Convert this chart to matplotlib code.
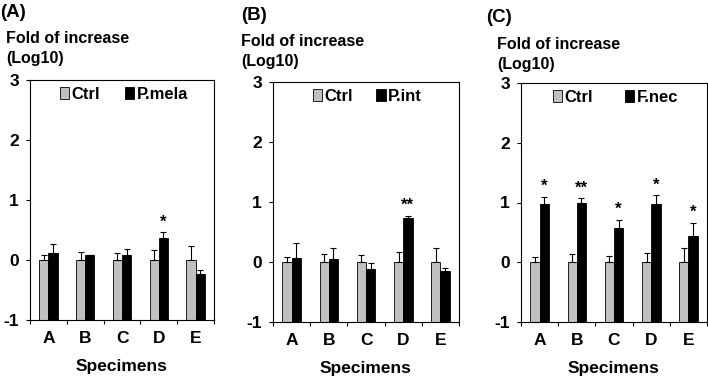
import matplotlib
matplotlib.use("Agg")
import matplotlib.pyplot as plt
import numpy as np

plt.rcParams['font.family'] = ['Liberation Sans', 'DejaVu Sans']
plt.rcParams['font.weight'] = 'bold'
plt.rcParams['axes.labelweight'] = 'bold'
plt.rcParams['axes.unicode_minus'] = False

categories = ['A', 'B', 'C', 'D', 'E']

ctrl_vals = [0, 0, 0, 0, 0]
ctrl_err = [0.09, 0.13, 0.11, 0.16, 0.24]

pmela_vals = [0.12, 0.08, 0.09, 0.37, -0.24]
pmela_err = [0.14, 0.01, 0.09, 0.09, 0.07]
pmela_sig = ['', '', '', '*', '']

pint_vals = [0.07, 0.05, -0.12, 0.73, -0.15]
pint_err = [0.25, 0.19, 0.10, 0.04, 0.05]
pint_sig = ['', '', '', '**', '']

fnec_vals = [0.97, 1.00, 0.57, 0.98, 0.44]
fnec_err = [0.13, 0.07, 0.14, 0.14, 0.22]
fnec_sig = ['*', '**', '*', '*', '*']

panels = [
    ('(A)', 'P.mela', pmela_vals, pmela_err, pmela_sig),
    ('(B)', 'P.int', pint_vals, pint_err, pint_sig),
    ('(C)', 'F.nec', fnec_vals, fnec_err, fnec_sig),
]

W, H = 708, 378
fig = plt.figure(figsize=(W / 100, H / 100), dpi=100)

# axes boxes in pixels: left, top, right, bottom
boxes = [(30, 80, 214, 320), (273, 82, 459, 322), (521, 83, 707, 322)]
legend_x = [0.163, 0.215, 0.172]
legend_gap = [1.5, 1.4, 1.9]
label_pos = [(0, 4, 6, 31), (241, 7, 241, 34), (486, 9, 497, 37)]

ymin = -1
x = np.arange(len(categories))
bw = 0.25

for i, (tag, name, vals, err, sig) in enumerate(panels):
    l, t, r, b = boxes[i]
    ax = fig.add_axes([l / W, 1 - b / H, (r - l) / W, (b - t) / H])

    # Excel-style bars start from the axis minimum
    c_h = np.array(ctrl_vals) - ymin
    s_h = np.array(vals) - ymin
    ax.bar(x - bw / 2, c_h, bw, bottom=ymin, color='#c0c0c0', edgecolor='black',
           linewidth=0.6, label='Ctrl', zorder=2)
    ax.bar(x + bw / 2, s_h, bw, bottom=ymin, color='black', edgecolor='black',
           linewidth=0.6, label=name, zorder=2)
    ax.errorbar(x - bw / 2, ctrl_vals, yerr=[np.zeros(5), ctrl_err], fmt='none',
                ecolor='black', elinewidth=0.8, capsize=2.4, capthick=0.8, zorder=3)
    ax.errorbar(x + bw / 2, vals, yerr=[np.zeros(5), err], fmt='none',
                ecolor='black', elinewidth=0.8, capsize=2.4, capthick=0.8, zorder=3)

    for j, s in enumerate(sig):
        if s:
            ax.text(x[j] + bw / 2, vals[j] + err[j] + 0.10, s, ha='center',
                    va='baseline', fontsize=12, fontweight='bold')

    ax.set_xlim(-0.5, len(categories) - 0.5)
    ax.set_ylim(-1, 3)
    ax.set_yticks([-1, 0, 1, 2, 3])
    ax.set_xticks(x)
    ax.set_xticklabels(categories)
    ax.set_xticks(np.arange(-0.5, len(categories)), minor=True)
    ax.tick_params(axis='x', which='major', length=0, pad=8, labelsize=12.5)
    ax.tick_params(axis='x', which='minor', length=3, width=0.8, direction='out')
    ax.tick_params(axis='y', length=3, width=0.8, direction='out', pad=5,
                   labelsize=12.5)
    for sp in ax.spines.values():
        sp.set_linewidth(0.8)
    ax.set_xlabel('Specimens', fontsize=12.5, labelpad=9)

    ax.legend(loc='center left', bbox_to_anchor=(legend_x[i], 0.94), ncol=2,
              frameon=False, borderpad=0, borderaxespad=0, handlelength=0.55,
              handleheight=0.7, handletextpad=0.15, columnspacing=legend_gap[i],
              prop={'size': 12, 'weight': 'bold'})

    tx, ty, fx, fy = label_pos[i]
    fig.text(tx / W, 1 - ty / H, tag, ha='left', va='top', fontsize=13.5,
             fontweight='bold')
    fig.text(fx / W, 1 - fy / H, 'Fold of increase\n(Log10)', ha='left', va='top',
             fontsize=11.5, fontweight='bold', linespacing=1.4)

fig.savefig('out.png', dpi=100)
